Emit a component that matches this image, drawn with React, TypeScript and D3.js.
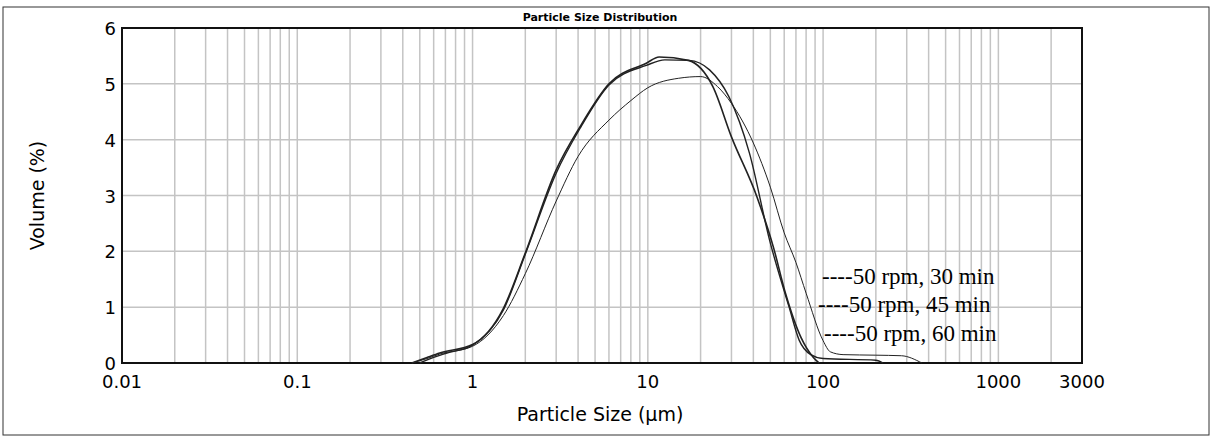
import React from 'react';
import * as d3 from 'd3';

// particle size (µm) and volume (%)
const sizes30 = [0.45, 0.55, 0.65, 1.0, 1.5, 2, 3, 4, 6, 8, 10, 15, 20, 25, 30, 40, 50, 60, 70, 80, 100, 110, 130, 200, 280, 366];
const vol30 = [0, 0.08, 0.16, 0.3, 0.85, 1.6, 2.9, 3.7, 4.35, 4.7, 4.93, 5.1, 5.13, 4.95, 4.65, 3.94, 3.15, 2.33, 1.8, 1.25, 0.4, 0.2, 0.15, 0.14, 0.13, 0];

const sizes45 = [0.45, 0.55, 0.65, 1.0, 1.5, 2, 3, 4.1, 6, 9.8, 11.6, 17, 23.5, 30, 42, 52, 61, 75, 88, 95];
const vol45 = [0, 0.1, 0.18, 0.33, 0.98, 1.97, 3.46, 4.23, 5.0, 5.37, 5.48, 5.42, 4.95, 4.05, 2.97, 2.08, 1.25, 0.45, 0.1, 0];

const sizes60 = [0.5, 0.6, 0.7, 1.0, 1.5, 2, 3, 4.1, 6, 9.8, 12.5, 17.2, 22.5, 29, 38, 49.5, 64, 73, 85, 100, 200, 220];
const vol60 = [0, 0.1, 0.17, 0.32, 0.95, 1.95, 3.4, 4.2, 4.98, 5.33, 5.43, 5.42, 5.25, 4.77, 3.76, 2.2, 1.0, 0.41, 0.15, 0.08, 0.05, 0];

const seriesNames = ['50 rpm, 30 min', '50 rpm, 45 min', '50 rpm, 60 min'];
const xTickLabels = [0.01, 0.1, 1, 10, 100, 1000, 3000];
const yTicks = [0, 1, 2, 3, 4, 5, 6];

const App: React.FC = () => {
  const left = 122, right = 1082, top = 28, bottom = 363;
  const x = d3.scaleLog().domain([0.01, 3000]).range([left, right]);
  const y = d3.scaleLinear().domain([0, 6]).range([bottom, top]);

  // minor grid: 1..9 of every decade, plus 2000
  const grid: number[] = [];
  for (let e = -2; e <= 2; e++) for (let m = 1; m <= 9; m++) grid.push(m * Math.pow(10, e));
  grid.push(1000, 2000);

  const line = d3.line<[number, number]>()
    .x(d => x(d[0]))
    .y(d => y(d[1]))
    .curve(d3.curveMonotoneX);

  const series = [
    { s: sizes30, v: vol30, w: 1 },
    { s: sizes45, v: vol45, w: 1.6 },
    { s: sizes60, v: vol60, w: 1.4 },
  ];

  const legendPos = [
    { x: 822, y: 284 },
    { x: 818, y: 312 },
    { x: 824, y: 341 },
  ];

  const font = 'DejaVu Sans, Verdana, sans-serif';

  return (
    <svg width={1212} height={438} style={{ position: 'absolute', left: 0, top: 0 }}>
      <rect x={0} y={0} width={1212} height={438} fill="#fff" />
      <rect x={3} y={7} width={1206} height={428} fill="none" stroke="#333" strokeWidth={1} />
      <text x={600} y={21} textAnchor="middle" fontFamily={font} fontSize={11} fontWeight="bold">Particle Size Distribution</text>
      {grid.map((g, i) => (
        <line key={'gx' + i} x1={x(g)} x2={x(g)} y1={top} y2={bottom} stroke="#c4c4c4" strokeWidth={1.5} />
      ))}
      {yTicks.map(t => (
        <line key={'gy' + t} x1={left} x2={right} y1={y(t)} y2={y(t)} stroke="#c4c4c4" strokeWidth={1.5} />
      ))}
      <rect x={left} y={top} width={right - left} height={bottom - top} fill="none" stroke="#111" strokeWidth={2} />
      {series.map((d, i) => (
        <path key={i} d={line(d.s.map((s, j) => [s, d.v[j]] as [number, number])) || ''} fill="none" stroke="#222" strokeWidth={d.w} />
      ))}
      {yTicks.map(t => (
        <text key={'yl' + t} x={left - 6} y={y(t) + 7} textAnchor="end" fontFamily={font} fontSize={18}>{t}</text>
      ))}
      {xTickLabels.map(t => (
        <text key={'xl' + t} x={x(t)} y={bottom + 25} textAnchor="middle" fontFamily={font} fontSize={18}>{t}</text>
      ))}
      <text x={600} y={421} textAnchor="middle" fontFamily={font} fontSize={19}>Particle Size (µm)</text>
      <text transform={`translate(44,${(top + bottom) / 2}) rotate(-90)`} textAnchor="middle" fontFamily={font} fontSize={19}>Volume (%)</text>
      {seriesNames.map((n, i) => (
        <text key={n} x={legendPos[i].x} y={legendPos[i].y} fontFamily="Liberation Serif, Times New Roman, serif" fontSize={23}>{'----' + n}</text>
      ))}
    </svg>
  );
};

export default App;
